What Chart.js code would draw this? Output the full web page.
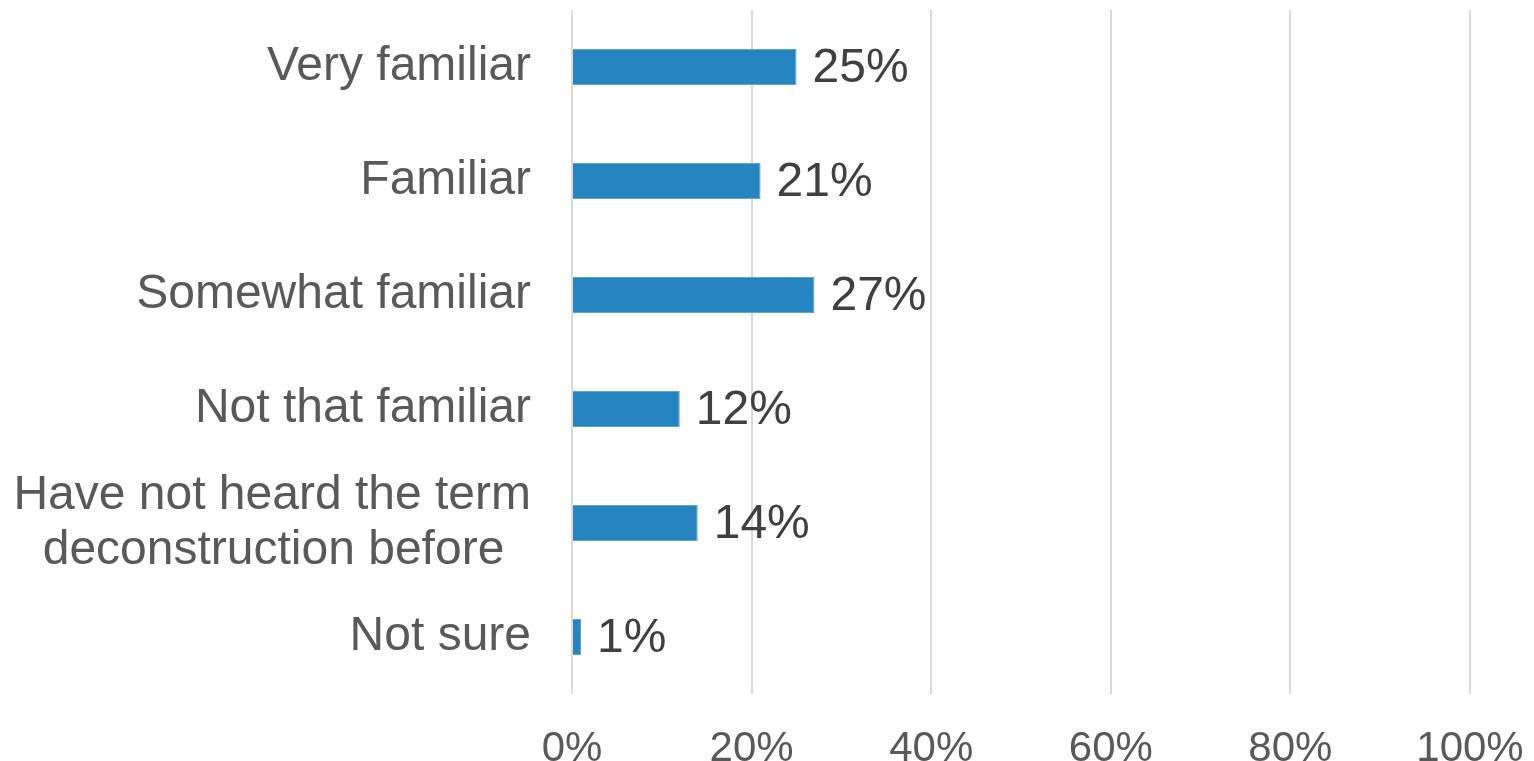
<!DOCTYPE html>
<html>
<head>
<meta charset="utf-8">
<script src="https://cdn.jsdelivr.net/npm/chart.js@4"></script>
<style>
html,body{margin:0;padding:0;background:#fff;}
#wrap{width:1534px;height:761px;position:relative;}
</style>
</head>
<body>
<div id="wrap"><canvas id="c"></canvas></div>
<script>
const categories = [
  ["Very familiar"],
  ["Familiar"],
  ["Somewhat familiar"],
  ["Not that familiar"],
  ["Have not heard the term", "deconstruction before  "],
  ["Not sure"]
];
const values = [25, 21, 27, 12, 14, 1];
const tickValues = [0, 20, 40, 60, 80, 100];

const valueLabels = {
  id: 'valueLabels',
  afterDatasetsDraw(chart) {
    const ctx = chart.ctx;
    const meta = chart.getDatasetMeta(0);
    ctx.save();
    ctx.font = '48px "Liberation Sans", Arial, sans-serif';
    ctx.fillStyle = '#404040';
    ctx.textAlign = 'left';
    ctx.textBaseline = 'middle';
    meta.data.forEach((bar, i) => {
      ctx.fillText(values[i] + '%', bar.x + 16, bar.y + 2);
    });
    ctx.restore();
  }
};

new Chart(document.getElementById('c'), {
  type: 'bar',
  data: {
    labels: categories,
    datasets: [{
      data: values,
      backgroundColor: '#2685C0',
      borderColor: '#5AA3D2',
      borderWidth: 1,
      barPercentage: 0.632,
      categoryPercentage: 0.5
    }]
  },
  options: {
    indexAxis: 'y',
    responsive: true,
    maintainAspectRatio: false,
    animation: false,
    layout: { padding: { top: 10, right: 64, left: 0, bottom: 0 } },
    plugins: { legend: { display: false }, tooltip: { enabled: false } },
    scales: {
      x: {
        min: 0, max: 100,
        afterBuildTicks(scale) { scale.ticks = tickValues.map(v => ({ value: v })); },
        afterFit(scale) {
          scale.height = 67;
          scale.paddingLeft = 0; scale.paddingRight = 0;
          scale.paddingTop = 0; scale.paddingBottom = 0;
        },
        grid: { color: '#d9d9d9', lineWidth: 2, drawTicks: false },
        border: { display: false },
        ticks: {
          padding: 30,
          color: '#595959',
          font: { family: '"Liberation Sans", Arial, sans-serif', size: 42 },
          callback: v => v + '%'
        }
      },
      y: {
        afterFit(scale) {
          scale.width = 572;
          scale.paddingLeft = 0; scale.paddingRight = 0;
          scale.paddingTop = 0; scale.paddingBottom = 0;
        },
        grid: { display: false },
        border: { display: false },
        ticks: {
          padding: 33,
          color: '#595959',
          font: { family: '"Liberation Sans", Arial, sans-serif', size: 48, lineHeight: 1.15 }
        }
      }
    }
  },
  plugins: [valueLabels]
});
</script>
</body>
</html>
